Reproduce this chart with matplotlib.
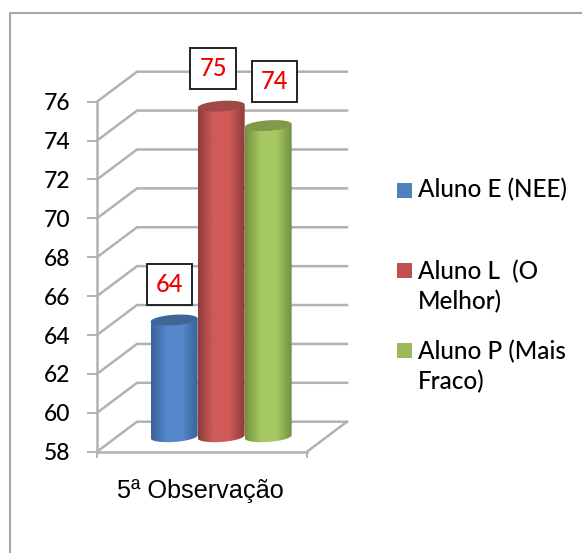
"""Cylinder chart of the 5th observation scores for three students."""

import matplotlib
matplotlib.use("Agg")
import matplotlib.pyplot as plt
import numpy as np
from matplotlib.colors import LinearSegmentedColormap
from matplotlib.lines import Line2D
from matplotlib.patches import PathPatch, Rectangle
from matplotlib.path import Path

plt.rcParams["font.family"] = ["Lato", "DejaVu Sans"]

W, H = 582, 553

category = "5ª Observação"
students = ["Aluno E (NEE)", "Aluno L  (O\nMelhor)", "Aluno P (Mais\nFraco)"]
scores = [64, 75, 74]
y_ticks = [58, 60, 62, 64, 66, 68, 70, 72, 74, 76]

legend_colors = ["#4f81bd", "#c0504d", "#9bbb59"]
edge_colors = ["#3a6399", "#8e3d3b", "#74923f"]
mid_colors = ["#5588cb", "#d05b58", "#a6c963"]
top_colors = ["#3e6797", "#a04a48", "#7f9a48"]
GRID = "#b2b2b2"

# fake 3D: depth of the floor in data units
DEPTH_X = 40 / 210
DEPTH_Y = 30 / (350 / 18)
BAR_W = 47 / 210
CENTER = 0.496
RY = 0.27       # top ellipse half height
TILT = 0.08     # ellipses lean a little to the right


def px_rect(left, top, width, height):
    return [left / W, 1 - (top + height) / H, width / W, height / H]


fig = plt.figure(figsize=(W / 100, H / 100), dpi=100, facecolor="white")
ax = fig.add_axes(px_rect(97, 101.7, 210, 350))
ax.set_xlim(0, 1)
ax.set_ylim(58, 76)
ax.set_autoscale_on(False)

# outer frame only shows on the top and left
fig.add_artist(Line2D([10 / W, 10 / W, 1], [0, 1 - 13 / H, 1 - 13 / H],
                      color="#a8a8a8", lw=1.5, transform=fig.transFigure))

# walls and floor
for y in y_ticks:
    ax.plot([0, DEPTH_X, 1 + DEPTH_X], [y, y + DEPTH_Y, y + DEPTH_Y],
            color=GRID, lw=1.8, clip_on=False, zorder=1)
ax.plot([1, 1 + DEPTH_X], [58, 58 + DEPTH_Y], color=GRID, lw=1.8, clip_on=False, zorder=1)

for side in ["top", "right"]:
    ax.spines[side].set_visible(False)
for side in ["left", "bottom"]:
    ax.spines[side].set_color(GRID)
    ax.spines[side].set_linewidth(1.8)

ax.set_yticks(y_ticks)
ax.tick_params(axis="y", length=7, width=1.4, color=GRID, pad=12, labelsize=16.5)
for label in ax.get_yticklabels():
    label.set_fontweight("medium")
ax.set_xticks([0, 1], ["", ""])
ax.tick_params(axis="x", which="major", length=4.5, width=1.4, color=GRID)
ax.set_xticks([0.49], [category], minor=True)
ax.tick_params(axis="x", which="minor", length=0, pad=20)
for label in ax.get_xticklabels(minor=True):
    label.set_fontfamily("Liberation Sans")
    label.set_fontsize(18.2)

# cylinders, back to front from left to right
t = np.linspace(0, 2 * np.pi, 81)
label_offsets = [(-4.5, 36), (-8, 37.5), (6.5, 44.5)]
for i, value in enumerate(scores):
    cx = CENTER + (i - 1) * BAR_W + DEPTH_X / 2
    base = 58 + DEPTH_Y / 2
    top = value + DEPTH_Y / 2
    r = BAR_W / 2

    lower = t[t >= np.pi]
    bx = cx + r * np.cos(lower)
    by = base + RY * np.sin(lower) + TILT * np.cos(lower)
    verts = np.vstack([[cx - r, top - TILT], [cx + r, top + TILT],
                       np.column_stack([bx[::-1], by[::-1]])])
    verts = np.vstack([verts, verts[0]])
    body = PathPatch(Path(verts), facecolor="none", edgecolor="none", zorder=3 + i, clip_on=False)
    ax.add_patch(body)

    cmap = LinearSegmentedColormap.from_list(
        "cyl", [edge_colors[i], mid_colors[i], mid_colors[i], edge_colors[i]])
    im = ax.imshow(np.linspace(0, 1, 64)[None, :], cmap=cmap, aspect="auto",
                   extent=(cx - r, cx + r, 57, top + 1), interpolation="bilinear", zorder=3 + i)
    im.set_clip_path(body)

    cap = np.column_stack([cx + r * np.cos(t), top + RY * np.sin(t) + TILT * np.cos(t)])
    ax.add_patch(PathPatch(Path(cap), facecolor=top_colors[i], edgecolor="none",
                           zorder=3 + i + 0.5, clip_on=False))

    ax.annotate(str(value), xy=(cx, top), xytext=label_offsets[i], textcoords="offset pixels",
                ha="center", va="center", color="#ee0000", fontsize=17, fontweight="medium", zorder=10,
                bbox=dict(boxstyle="square,pad=0.38", facecolor="white", edgecolor="#222222", lw=1.4))

# legend with hand-set rows: the two-line entries align on their first line
legend_y = [190, 270, 350]
text_y = [178, 260, 340]
for name, color, y, ty in zip(students, legend_colors, legend_y, text_y):
    fig.add_artist(Rectangle((397 / W, 1 - (y + 7.5) / H), 15 / W, 15 / H,
                             facecolor=color, edgecolor="none", transform=fig.transFigure))
    fig.text(418 / W, 1 - ty / H, name, fontsize=17.5, color="black", fontweight="medium",
             ha="left", va="top", linespacing=1.36)

plt.savefig("out.png", dpi=100)
